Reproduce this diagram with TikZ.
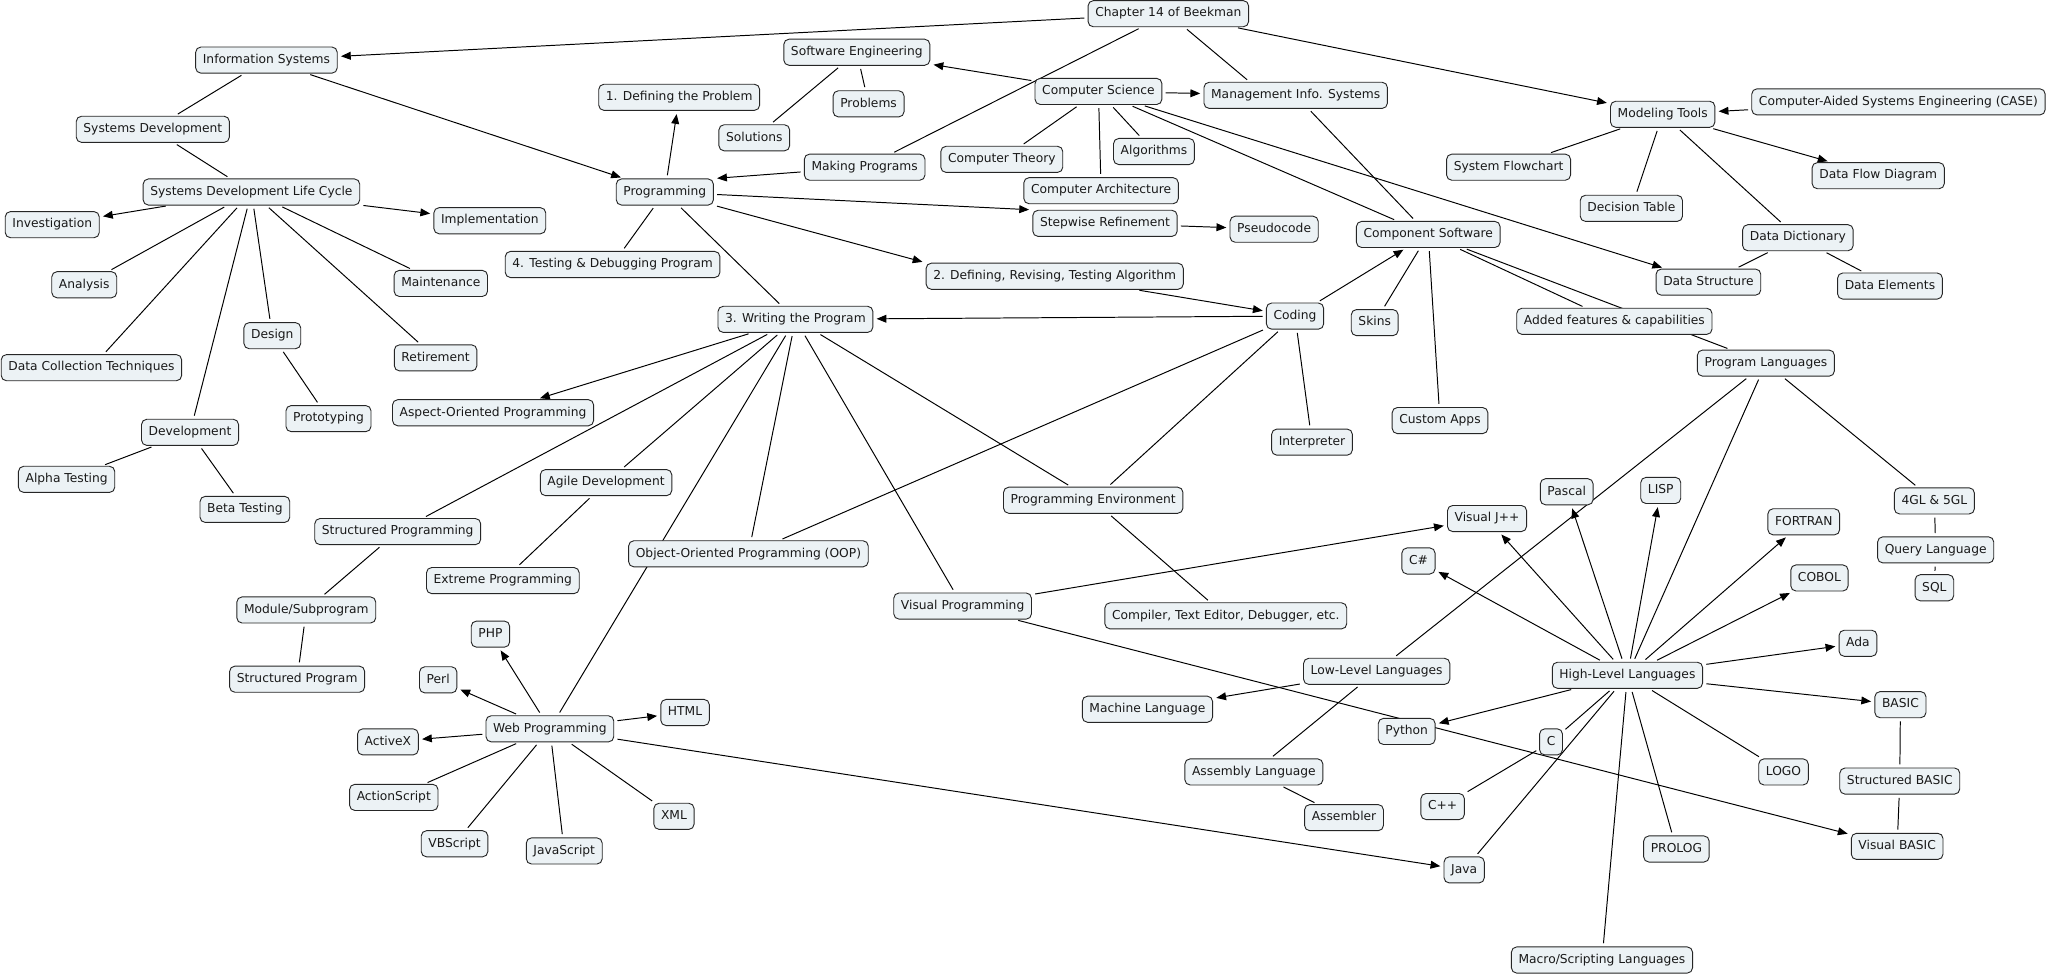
\documentclass[tikz,border=0pt]{standalone}
\usepackage{fontspec}
\setmainfont{DejaVu Sans}
\usetikzlibrary{arrows.meta,calc}
\pgfdeclarelayer{back}
\pgfdeclarelayer{edges}
\pgfsetlayers{back,edges,main}
\definecolor{boxfill}{RGB}{236,242,245}
\tikzset{
  cbox/.style={draw=black!85, fill=boxfill, rounded corners=4pt, line width=0.7pt,
    inner xsep=5.5pt, inner ysep=2pt, minimum height=20pt,
    text height=7pt, text depth=2pt, text=black!90,
    font=\fontsize{9.4}{11}\selectfont},
  ln/.style={draw=black, line width=0.75pt, shorten <=2.5pt, shorten >=2.5pt},
  ar/.style={ln, -{Triangle[length=7.5pt,width=6pt]}}
}
\begin{document}
\begin{tikzpicture}[x=1pt,y=-1pt]
\begin{pgfonlayer}{back}
\fill[white] (0,0) rectangle (1568,749);
\end{pgfonlayer}
\useasboundingbox (0,0) rectangle (1568,749);
% nodes
\node[cbox] (ch14) at (894.5,10.5) {Chapter 14 of Beekman};
\node[cbox] (infosys) at (204,46) {Information Systems};
\node[cbox] (softeng) at (656,40) {Software Engineering};
\node[cbox] (defprob) at (520,74.5) {1. Defining the Problem};
\node[cbox] (problems) at (665,79.5) {Problems};
\node[cbox] (compsci) at (841,70) {Computer Science};
\node[cbox] (mis) at (992,73) {Management Info. Systems};
\node[cbox] (modtools) at (1273,87.5) {Modeling Tools};
\node[cbox] (case) at (1453.5,78) {Computer-Aided Systems Engineering (CASE)};
\node[cbox] (sysdev) at (117,99) {Systems Development};
\node[cbox] (solutions) at (577.5,105.5) {Solutions};
\node[cbox] (makeprog) at (662,128) {Making Programs};
\node[cbox] (comptheory) at (767,122) {Computer Theory};
\node[cbox] (algorithms) at (883.5,116) {Algorithms};
\node[cbox] (sysflow) at (1155,128) {System Flowchart};
\node[cbox] (dfd) at (1438,134.5) {Data Flow Diagram};
\node[cbox] (sdlc) at (192.5,147) {Systems Development Life Cycle};
\node[cbox] (prog) at (509,147) {Programming};
\node[cbox] (comparch) at (843,146) {Computer Architecture};
\node[cbox] (dectable) at (1249,159.5) {Decision Table};
\node[cbox] (investig) at (40,172) {Investigation};
\node[cbox] (implem) at (375,169) {Implementation};
\node[cbox] (stepwise) at (846,171) {Stepwise Refinement};
\node[cbox] (pseudo) at (975.5,175.5) {Pseudocode};
\node[cbox] (compsw) at (1093.5,179.5) {Component Software};
\node[cbox] (datadict) at (1376.5,182) {Data Dictionary};
\node[cbox] (testdebug) at (469,202.5) {4. Testing \& Debugging Program};
\node[cbox] (def2) at (807.5,211.5) {2. Defining, Revising, Testing Algorithm};
\node[cbox] (datastruct) at (1308,216) {Data Structure};
\node[cbox] (dataelem) at (1447,219) {Data Elements};
\node[cbox] (analysis) at (64.5,218) {Analysis};
\node[cbox] (maint) at (337.5,217) {Maintenance};
\node[cbox] (writing) at (609,244.5) {3. Writing the Program};
\node[cbox] (coding) at (991.5,242) {Coding};
\node[cbox] (skins) at (1052.5,247) {Skins};
\node[cbox] (added) at (1236,246) {Added features \& capabilities};
\node[cbox] (design) at (208.5,257) {Design};
\node[cbox] (retire) at (333.5,274) {Retirement};
\node[cbox] (datacoll) at (70,281.5) {Data Collection Techniques};
\node[cbox] (proglang) at (1352,278) {Program Languages};
\node[cbox] (aop) at (377.5,316) {Aspect-Oriented Programming};
\node[cbox] (proto) at (251.5,320.5) {Prototyping};
\node[cbox] (customapps) at (1102.5,322) {Custom Apps};
\node[cbox] (develop) at (145.5,331) {Development};
\node[cbox] (interp) at (1004.5,338.5) {Interpreter};
\node[cbox] (alpha) at (51,367) {Alpha Testing};
\node[cbox] (agile) at (464,369.5) {Agile Development};
\node[cbox] (progenv) at (837,383) {Programming Environment};
\node[cbox] (pascal) at (1199.5,376.5) {Pascal};
\node[cbox] (lisp) at (1271.5,375.5) {LISP};
\node[cbox] (beta) at (187.5,390) {Beta Testing};
\node[cbox] (fourgl) at (1481,383.5) {4GL \& 5GL};
\node[cbox] (visj) at (1138.5,397) {Visual J++};
\node[cbox] (fortran) at (1381,399.5) {FORTRAN};
\node[cbox] (structprog) at (304.5,407) {Structured Programming};
\node[cbox] (querylang) at (1482,421) {Query Language};
\node[cbox] (extreme) at (385,444.5) {Extreme Programming};
\node[cbox] (oop) at (573,424) {Object-Oriented Programming (OOP)};
\node[cbox] (csharp) at (1086,429.5) {C\#};
\node[cbox] (cobol) at (1393,442.5) {COBOL};
\node[cbox] (sql) at (1481,450) {SQL};
\node[cbox] (module) at (234.5,467) {Module/Subprogram};
\node[cbox] (visprog) at (737,464) {Visual Programming};
\node[cbox] (compiler) at (938.5,471.5) {Compiler, Text Editor, Debugger, etc.};
\node[cbox] (php) at (375.5,485.5) {PHP};
\node[cbox] (ada) at (1422.5,492.5) {Ada};
\node[cbox] (lowlev) at (1054,514) {Low-Level Languages};
\node[cbox] (highlev) at (1246,517) {High-Level Languages};
\node[cbox] (perl) at (335.5,520.5) {Perl};
\node[cbox] (structprogram) at (227.5,520) {Structured Program};
\node[cbox] (machlang) at (878.5,543) {Machine Language};
\node[cbox] (basic) at (1455,539.5) {BASIC};
\node[cbox] (webprog) at (421,558) {Web Programming};
\node[cbox] (html) at (524.5,545.5) {HTML};
\node[cbox] (python) at (1077,560) {Python};
\node[cbox] (cc) at (1187.5,568) {C};
\node[cbox] (activex) at (297,568) {ActiveX};
\node[cbox] (asmlang) at (960,591) {Assembly Language};
\node[cbox] (logo) at (1365.5,591) {LOGO};
\node[cbox] (structbasic) at (1454.5,598) {Structured BASIC};
\node[cbox] (actionscript) at (301.5,610.5) {ActionScript};
\node[cbox] (cpp) at (1104.5,617.5) {C++};
\node[cbox] (assembler) at (1029,626) {Assembler};
\node[cbox] (xml) at (516,625) {XML};
\node[cbox] (vbscript) at (348,646) {VBScript};
\node[cbox] (javascript) at (432,651.5) {JavaScript};
\node[cbox] (visbasic) at (1452.5,648) {Visual BASIC};
\node[cbox] (prolog) at (1283.5,650) {PROLOG};
\node[cbox] (java) at (1121,666) {Java};
\node[cbox] (macro) at (1226.5,735) {Macro/Scripting Languages};
% edges
\begin{pgfonlayer}{edges}
\draw[ar] (ch14) -- (infosys);
\draw[ar] (ch14) -- (modtools);
\draw[ln] (ch14) -- (makeprog);
\draw[ln] (ch14) -- ($(mis.north)!0.5!(mis.north west)$);
\draw[ln] (infosys) -- (sysdev);
\draw[ar] (infosys) -- (prog);
\draw[ln] (sysdev) -- (sdlc);
\draw[ar] (sdlc) -- (investig);
\draw[ar] (sdlc) -- (implem);
\draw[ln] (sdlc) -- (analysis);
\draw[ln] (sdlc) -- (datacoll);
\draw[ln] (sdlc) -- (develop);
\draw[ln] (sdlc) -- (design);
\draw[ln] (sdlc) -- (retire);
\draw[ln] (sdlc) -- (maint);
\draw[ln] (design) -- (proto);
\draw[ln] (develop) -- (alpha);
\draw[ln] (develop) -- (beta);
\draw[ar] (compsci) -- (softeng);
\draw[ar] (compsci) -- (mis);
\draw[ar] (compsci) -- (datastruct);
\draw[ln] (compsci) -- (comptheory);
\draw[ln] (compsci) -- (comparch);
\draw[ln] (compsci) -- (algorithms);
\draw[ln] (compsci) -- (compsw);
\draw[ln] (mis) -- (compsw);
\draw[ln] (softeng) -- (problems);
\draw[ln] (softeng) -- (solutions);
\draw[ar] (makeprog) -- (prog.north east);
\draw[ar] (prog) -- (defprob);
\draw[ar] (prog) -- (stepwise.north west);
\draw[ar] (prog) -- (def2.north west);
\draw[ln] (prog) -- (testdebug);
\draw[ln] (prog) -- (writing);
\draw[ar] (stepwise) -- (pseudo);
\draw[ar] (def2) -- (coding);
\draw[ar] (coding) -- (writing);
\draw[ar] (coding) -- (compsw);
\draw[ln] (coding) -- (oop);
\draw[ln] (coding) -- (progenv);
\draw[ln] (coding) -- (interp);
\draw[ar] (writing) -- (aop);
\draw[ln] (writing) -- (structprog);
\draw[ln] (writing) -- (agile);
\draw[ln] (writing) -- (webprog);
\draw[ln] (writing) -- (oop);
\draw[ln] (writing) -- (visprog);
\draw[ln] (writing) -- (progenv);
\draw[ln] (agile) -- (extreme);
\draw[ln] (structprog) -- (module);
\draw[ln] (module) -- (structprogram);
\draw[ln] (progenv) -- (compiler);
\draw[ar] (visprog) -- (visj);
\draw[ar] (visprog) -- (visbasic);
\draw[ln] (compsw) -- (skins);
\draw[ln] (compsw) -- (customapps);
\draw[ln] (compsw) -- (added);
\draw[ln] (compsw) -- (proglang);
\draw[ln] (proglang) -- (lowlev);
\draw[ln] (proglang) -- (highlev);
\draw[ln] (proglang) -- (fourgl);
\draw[ln] (fourgl) -- (querylang);
\draw[ln] (querylang) -- (sql);
\draw[ar] (case) -- (modtools);
\draw[ar] (modtools) -- (dfd);
\draw[ln] (modtools) -- (sysflow);
\draw[ln] (modtools) -- (dectable);
\draw[ln] (modtools) -- (datadict);
\draw[ln] (datadict) -- (datastruct);
\draw[ln] (datadict) -- (dataelem);
\draw[ar] (highlev) -- (visj);
\draw[ar] (highlev) -- (csharp);
\draw[ar] (highlev) -- (pascal);
\draw[ar] (highlev) -- (lisp);
\draw[ar] (highlev) -- (fortran);
\draw[ar] (highlev) -- (cobol);
\draw[ar] (highlev) -- (ada);
\draw[ar] (highlev) -- (basic);
\draw[ar] (highlev) -- (python);
\draw[ln] (highlev) -- (cc);
\draw[ln] (highlev) -- (java);
\draw[ln] (highlev) -- (macro);
\draw[ln] (highlev) -- (prolog);
\draw[ln] (highlev) -- (logo);
\draw[ln] (cc) -- (cpp);
\draw[ar] (lowlev) -- (machlang);
\draw[ln] (lowlev) -- (asmlang);
\draw[ln] (asmlang) -- (assembler);
\draw[ln] (basic) -- (structbasic);
\draw[ln] (structbasic) -- (visbasic);
\draw[ar] (webprog) -- (php);
\draw[ar] (webprog) -- (perl);
\draw[ar] (webprog) -- (html);
\draw[ar] (webprog) -- (activex);
\draw[ar] (webprog) -- (java);
\draw[ln] (webprog) -- (actionscript);
\draw[ln] (webprog) -- (vbscript);
\draw[ln] (webprog) -- (javascript);
\draw[ln] (webprog) -- (xml);
\end{pgfonlayer}
\end{tikzpicture}
\end{document}
